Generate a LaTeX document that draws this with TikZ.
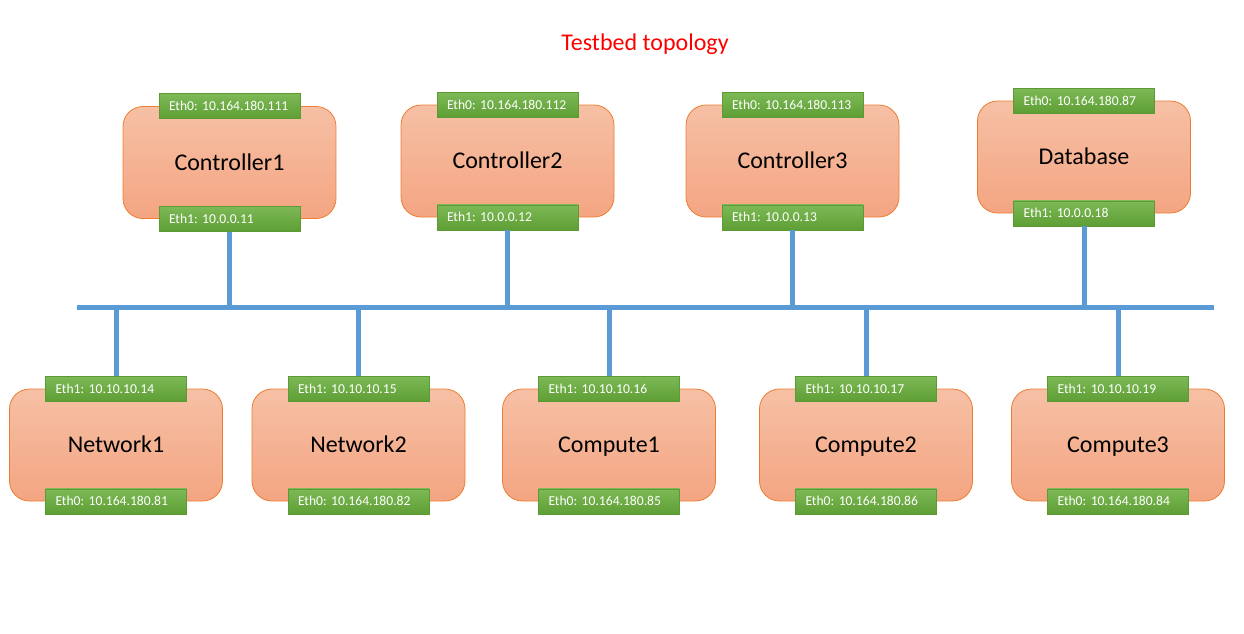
\documentclass[tikz,border=0pt]{standalone}
\usepackage{fontspec}
\setmainfont{Carlito}
\frenchspacing
\definecolor{boxtop}{HTML}{F6C0A5}
\definecolor{boxbot}{HTML}{F4A582}
\definecolor{boxline}{HTML}{ED7D31}
\definecolor{ethtop}{HTML}{7DB956}
\definecolor{ethbot}{HTML}{5E9F35}
\definecolor{ethline}{HTML}{5B9A35}
\definecolor{busblue}{HTML}{5B9BD5}
\definecolor{titlered}{HTML}{FF0000}
\begin{document}
\begin{tikzpicture}[
  x=1pt, y=-1pt,
  host/.style={rectangle, rounded corners=20pt, draw=boxline, line width=0.8pt,
    top color=boxtop, bottom color=boxbot, minimum width=213pt, minimum height=112pt,
    text height=20pt, text depth=5pt, font=\fontsize{24}{28}\selectfont},
  eth/.style={rectangle, draw=ethline, line width=0.6pt, top color=ethtop, bottom color=ethbot,
    text=white, minimum height=25pt, text width=121pt, inner xsep=10pt, inner ysep=0pt,
    text height=12pt, text depth=3pt, align=left, font=\fontsize{13.6}{16}\selectfont},
  wire/.style={busblue, line width=5pt}
]
\useasboundingbox (0,0) rectangle (1244,633);

% --- title ---
\node[text=titlered, font=\fontsize{24}{28}\selectfont] (title) at (645,44) {Testbed topology};

% --- controllers and database (top row) ---
\node[host] (ctrl1) at (229.5,162.5) {Controller1};
\node[eth] (ctrl1e0) at (ctrl1.north) {Eth0: 10.164.180.111};
\node[eth] (ctrl1e1) at (ctrl1.south) {Eth1: 10.0.0.11};

\node[host] (ctrl2) at (507.5,161) {Controller2};
\node[eth] (ctrl2e0) at (ctrl2.north) {Eth0: 10.164.180.112};
\node[eth] (ctrl2e1) at (ctrl2.south) {Eth1: 10.0.0.12};

\node[host] (ctrl3) at (792.5,161) {Controller3};
\node[eth] (ctrl3e0) at (ctrl3.north) {Eth0: 10.164.180.113};
\node[eth] (ctrl3e1) at (ctrl3.south) {Eth1: 10.0.0.13};

\node[host] (db) at (1084,157) {Database};
\node[eth] (dbe0) at (db.north) {Eth0: 10.164.180.87};
\node[eth] (dbe1) at (db.south) {Eth1: 10.0.0.18};

% --- network and compute nodes (bottom row) ---
\node[host] (net1) at (116,445) {Network1};
\node[eth] (net1e1) at (net1.north) {Eth1: 10.10.10.14};
\node[eth] (net1e0) at (net1.south) {Eth0: 10.164.180.81};

\node[host] (net2) at (358.5,445) {Network2};
\node[eth] (net2e1) at (net2.north) {Eth1: 10.10.10.15};
\node[eth] (net2e0) at (net2.south) {Eth0: 10.164.180.82};

\node[host] (comp1) at (609,445) {Compute1};
\node[eth] (comp1e1) at (comp1.north) {Eth1: 10.10.10.16};
\node[eth] (comp1e0) at (comp1.south) {Eth0: 10.164.180.85};

\node[host] (comp2) at (866,445) {Compute2};
\node[eth] (comp2e1) at (comp2.north) {Eth1: 10.10.10.17};
\node[eth] (comp2e0) at (comp2.south) {Eth0: 10.164.180.86};

\node[host] (comp3) at (1118,445) {Compute3};
\node[eth] (comp3e1) at (comp3.north) {Eth1: 10.10.10.19};
\node[eth] (comp3e0) at (comp3.south) {Eth0: 10.164.180.84};

% --- bus ---
\coordinate (busL) at (77,307);
\coordinate (busR) at (1214,307);
\draw[wire] (busL) -- (busR);

% --- taps to the bus ---
\draw[wire] (ctrl1e1.south) -- (ctrl1e1.south |- busL);
\draw[wire] (ctrl2e1.south) -- (ctrl2e1.south |- busL);
\draw[wire] (ctrl3e1.south) -- (ctrl3e1.south |- busL);
\draw[wire] (dbe1.south) -- (dbe1.south |- busL);
\draw[wire] (net1e1.north |- busL) -- (net1e1.north);
\draw[wire] (net2e1.north |- busL) -- (net2e1.north);
\draw[wire] (comp1e1.north |- busL) -- (comp1e1.north);
\draw[wire] (comp2e1.north |- busL) -- (comp2e1.north);
\draw[wire] (comp3e1.north |- busL) -- (comp3e1.north);

\end{tikzpicture}
\end{document}
